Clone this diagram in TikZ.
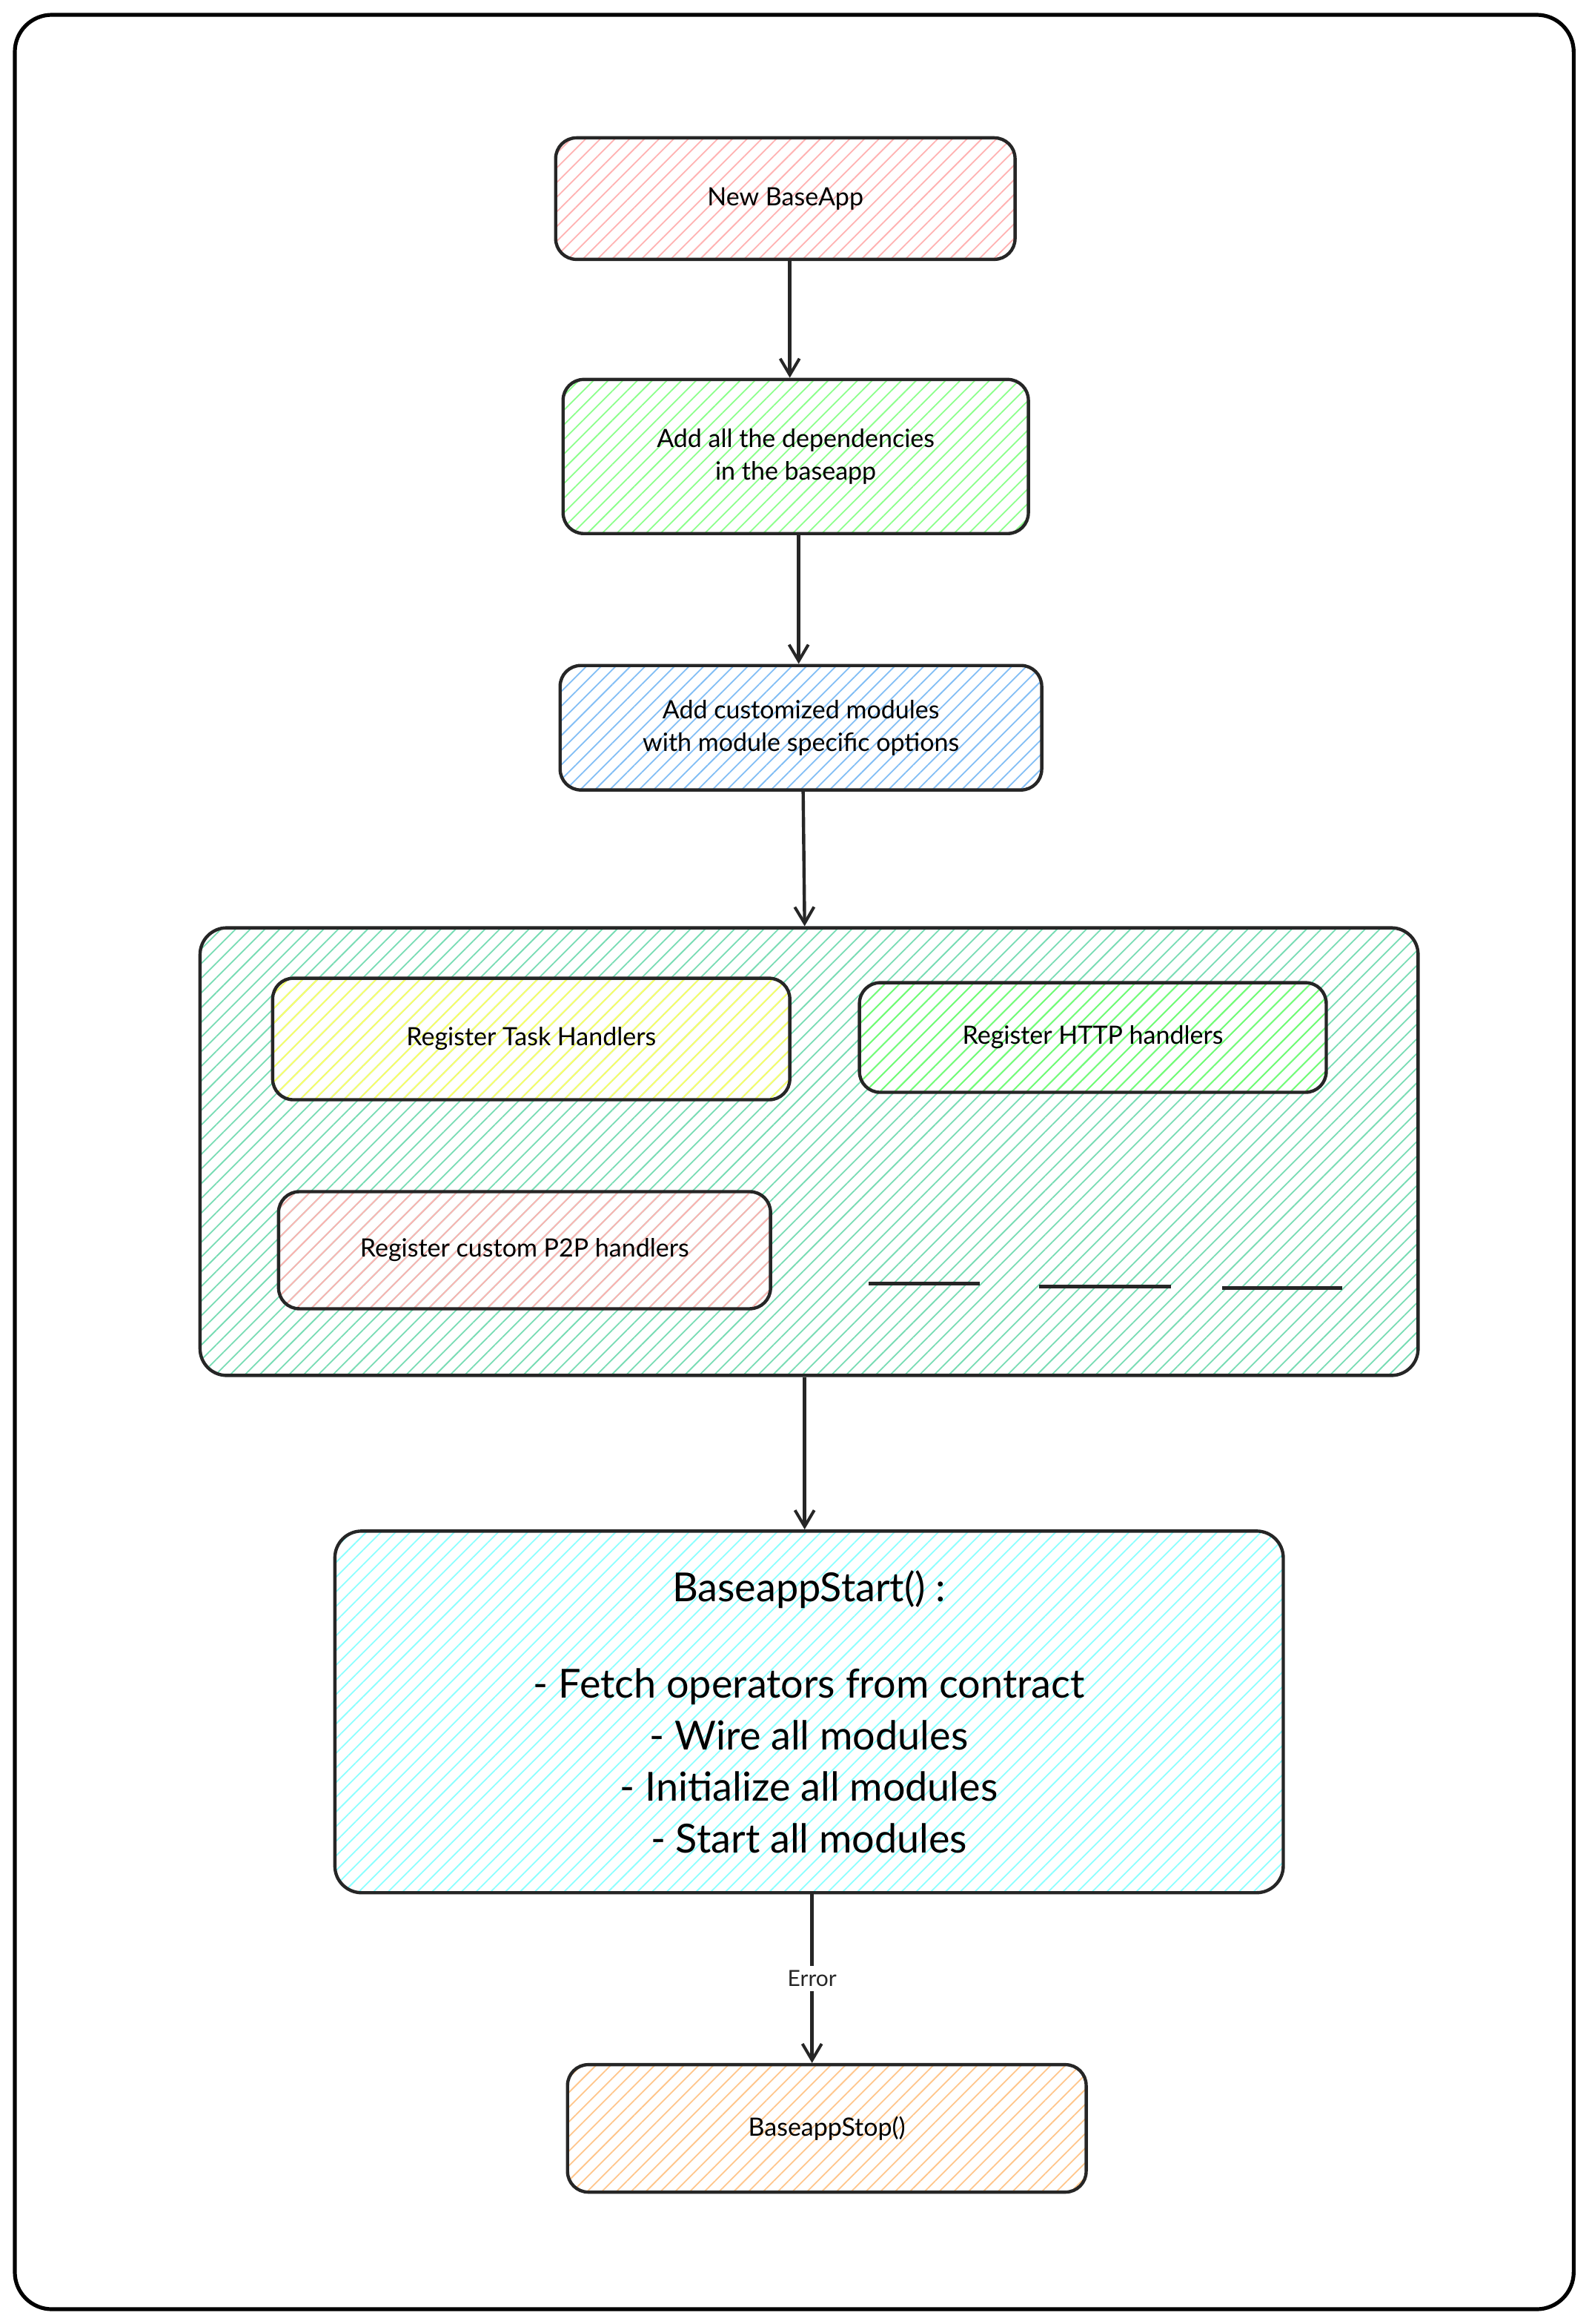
\documentclass[tikz,border=0pt]{standalone}
\usepackage{fontspec}
\setmainfont{Lato}
\usetikzlibrary{patterns.meta,arrows.meta}
\definecolor{mint}{RGB}{120,220,180}
\definecolor{sky}{RGB}{130,190,245}
\begin{document}
\begin{tikzpicture}[x=1pt,y=-1pt,
  box/.style={draw=black!85,line width=2.2pt,rounded corners=14pt,align=center,font=\fontsize{17}{22}\selectfont},
  hatch/.style={pattern={Lines[angle=45,distance=7pt,line width=0.9pt]},pattern color=#1},
  arr/.style={-{Straight Barb[length=11pt,width=13pt,line width=2pt]},line width=2.2pt,black!85}]
\useasboundingbox (0,0) rectangle (1072,1568);
\draw[line width=2.6pt,rounded corners=25pt,fill=white] (10,10) rectangle (1062,1558);
% boxes
\path[hatch=red!30,rounded corners=14pt] (375,93) rectangle (685,175);
\node[box,minimum width=310pt,minimum height=82pt] (a) at (530,134) {New BaseApp};
\path[hatch=green!45,rounded corners=14pt] (380,256) rectangle (694,360);
\node[box,minimum width=314pt,minimum height=104pt] (b) at (537,308) {Add all the dependencies\\in the baseapp};
\path[hatch=sky,rounded corners=14pt] (378,449) rectangle (703,533);
\node[box,minimum width=325pt,minimum height=84pt] (c) at (540.5,491) {Add customized modules\\with module specific options};
\path[hatch=mint,rounded corners=18pt] (135,626) rectangle (957,928);
\node[box,rounded corners=18pt,minimum width=822pt,minimum height=302pt] (d) at (546,777) {};
\path[hatch=yellow!60,rounded corners=14pt] (184,660) rectangle (533,742);
\node[box,minimum width=349pt,minimum height=82pt] (d1) at (358.5,701) {Register Task Handlers};
\path[hatch=green!55,rounded corners=14pt] (580,663) rectangle (895,737);
\node[box,minimum width=315pt,minimum height=74pt] (d2) at (737.5,700) {Register HTTP handlers};
\path[hatch=red!30,rounded corners=14pt] (188,804) rectangle (520,883);
\node[box,minimum width=332pt,minimum height=79pt] (d3) at (354,843.5) {Register custom P2P handlers};
\coordinate (l1a) at (586,866); \coordinate (l1b) at (661,866);
\coordinate (l2a) at (701,868); \coordinate (l2b) at (790,868);
\coordinate (l3a) at (825,869); \coordinate (l3b) at (906,869);
\draw[line width=2.4pt,black!85] (l1a)--(l1b) (l2a)--(l2b) (l3a)--(l3b);
\path[hatch=cyan!45,rounded corners=18pt] (226,1033) rectangle (866,1277);
\node[box,rounded corners=18pt,minimum width=640pt,minimum height=244pt,font=\fontsize{27}{35}\selectfont] (e) at (546,1155) {BaseappStart() :\\[30pt]- Fetch operators from contract\\- Wire all modules\\- Initialize all modules\\- Start all modules};
\path[hatch=orange!45,rounded corners=14pt] (383,1393) rectangle (733,1479);
\node[box,minimum width=350pt,minimum height=86pt] (f) at (558,1436) {BaseappStop()};
% arrows
\draw[arr] (a.south -| 533,0) -- (b.north -| 533,0);
\draw[arr] (b.south -| 539,0) -- (c.north -| 539,0);
\draw[arr] (c.south -| 542,0) -- (d.north -| 543,0);
\draw[arr] (d.south -| 543,0) -- (e.north -| 543,0);
\draw[arr] (e.south -| 548,0) -- node[fill=white,font=\fontsize{15}{18}\selectfont,inner sep=3pt]{Error} (f.north -| 548,0);
\end{tikzpicture}
\end{document}
